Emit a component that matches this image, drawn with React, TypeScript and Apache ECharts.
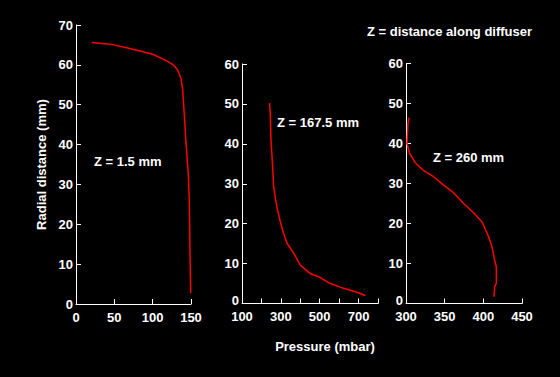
import React, { useEffect, useRef } from "react";
import * as echarts from "echarts";

// Panel 1: Z = 1.5 mm  [pressure mbar, radial distance mm]
const p1Pressure = [20.9, 44.3, 66.1, 83.5, 100.9, 118.3, 126.9, 132.6, 137, 139.2, 141.3, 143.5, 146.5, 147.8, 148.7, 149.6];
const p1Radial = [65.6, 65.2, 64.3, 63.5, 62.6, 61.0, 60.0, 58.7, 56.6, 53.7, 47.4, 40.3, 32.6, 26.1, 12.7, 2.7];

// Panel 2: Z = 167.5 mm
const p2Pressure = [242, 245.6, 249, 256, 262.7, 273, 283, 297, 314, 331.6, 365.9, 400, 451.5, 503, 554.5, 623, 692, 734.6];
const p2Radial = [50.2, 47.1, 41.2, 35.6, 29.3, 26, 23.4, 20.5, 17.6, 15.1, 12.6, 9.6, 7.5, 6.5, 5.0, 3.8, 2.8, 2.0];

// Panel 3: Z = 260 mm
const p3Pressure = [303.9, 302.6, 301.3, 304.7, 312, 322.8, 335.7, 348.6, 361.5, 374.5, 387.4, 398.3, 406.8, 411.2, 414.6, 416.8, 416.8, 414.6, 413.8];
const p3Radial = [46.5, 45, 40, 37.5, 35.2, 33.2, 31.7, 29.6, 27.7, 25, 22.7, 20.4, 16.7, 14.2, 10.8, 9.2, 5, 4.2, 1.7];

const p2XTickLabels = [100, 300, 500, 700];

const FONT = "'Liberation Sans', Arial, sans-serif";

export default function App() {
  const ref = useRef<HTMLDivElement>(null);
  useEffect(() => {
    document.body.style.margin = "0";
    const chart = echarts.init(ref.current!, null, { renderer: "svg" });
    const axisLine = { show: true, onZero: false, lineStyle: { color: "#fff", width: 1 } };
    const axisTick = { show: true, inside: true, length: 5, lineStyle: { color: "#fff", width: 1 } };
    const label = { color: "#fff", fontWeight: "bold" as const, fontSize: 13, fontFamily: FONT };
    const mkX = (gi: number, min: number, max: number, interval: number, fmt?: (v: number) => string) => ({
      type: "value", gridIndex: gi, min, max, interval,
      axisLine, axisTick, splitLine: { show: false },
      axisLabel: { ...label, margin: 7, lineHeight: 12, formatter: fmt },
    });
    const mkY = (gi: number, max: number, raiseZero: boolean) => ({
      type: "value", gridIndex: gi, min: 0, max, interval: 10,
      axisLine, axisTick, splitLine: { show: false },
      axisLabel: {
        ...label, margin: 3, lineHeight: 10,
        formatter: (v: number) => (raiseZero && v === 0 ? "{z|0}" : String(v)),
        rich: { z: { ...label, lineHeight: 10, padding: [0, 0, 7, 0] } },
      },
    });
    const pairs = (xs: number[], ys: number[]) => xs.map((x, i) => [x, ys[i]]);
    const line = (i: number, data: number[][]) => ({
      type: "line", xAxisIndex: i, yAxisIndex: i, data, showSymbol: false,
      lineStyle: { color: "#ff0000", width: 1.5 }, itemStyle: { color: "#ff0000" },
    });
    const txt = (x: number, y: number, text: string, extra: any = {}) => ({
      type: "text", x, y,
      style: { text, fill: "#fff", font: `bold 13px ${FONT}`, textAlign: "left", textVerticalAlign: "middle", ...extra.style },
      ...extra.el,
    });
    chart.setOption({
      animation: false,
      backgroundColor: "#000",
      grid: [
        { left: 76, top: 25, width: 115, height: 279 },
        { left: 242, top: 64, width: 136, height: 239.5 },
        { left: 406, top: 63.5, width: 116, height: 240 },
      ],
      xAxis: [
        mkX(0, 0, 150, 50),
        mkX(1, 100, 800, 100, (v: number) => (p2XTickLabels.includes(v) ? String(v) : "")),
        mkX(2, 300, 450, 50),
      ],
      yAxis: [
        { ...mkY(0, 70, false), name: "Radial distance (mm)", nameLocation: "middle", nameGap: 28, nameRotate: 90,
          nameTextStyle: { color: "#fff", fontWeight: "bold", fontSize: 13, fontFamily: FONT } },
        mkY(1, 60, true),
        mkY(2, 60, true),
      ],
      series: [
        line(0, pairs(p1Pressure, p1Radial)),
        line(1, pairs(p2Pressure, p2Radial)),
        line(2, pairs(p3Pressure, p3Radial)),
      ],
      graphic: [
        txt(325, 346, "Pressure (mbar)", { style: { textAlign: "center" } }),
        txt(367, 31, "Z = distance along diffuser"),
        txt(94, 161, "Z = 1.5 mm"),
        txt(277, 122, "Z = 167.5 mm"),
        txt(433, 157, "Z = 260 mm"),
      ],
    });
    return () => chart.dispose();
  }, []);
  return <div ref={ref} style={{ position: "fixed", left: 0, top: 0, width: 560, height: 377, background: "#000" }} />;
}
